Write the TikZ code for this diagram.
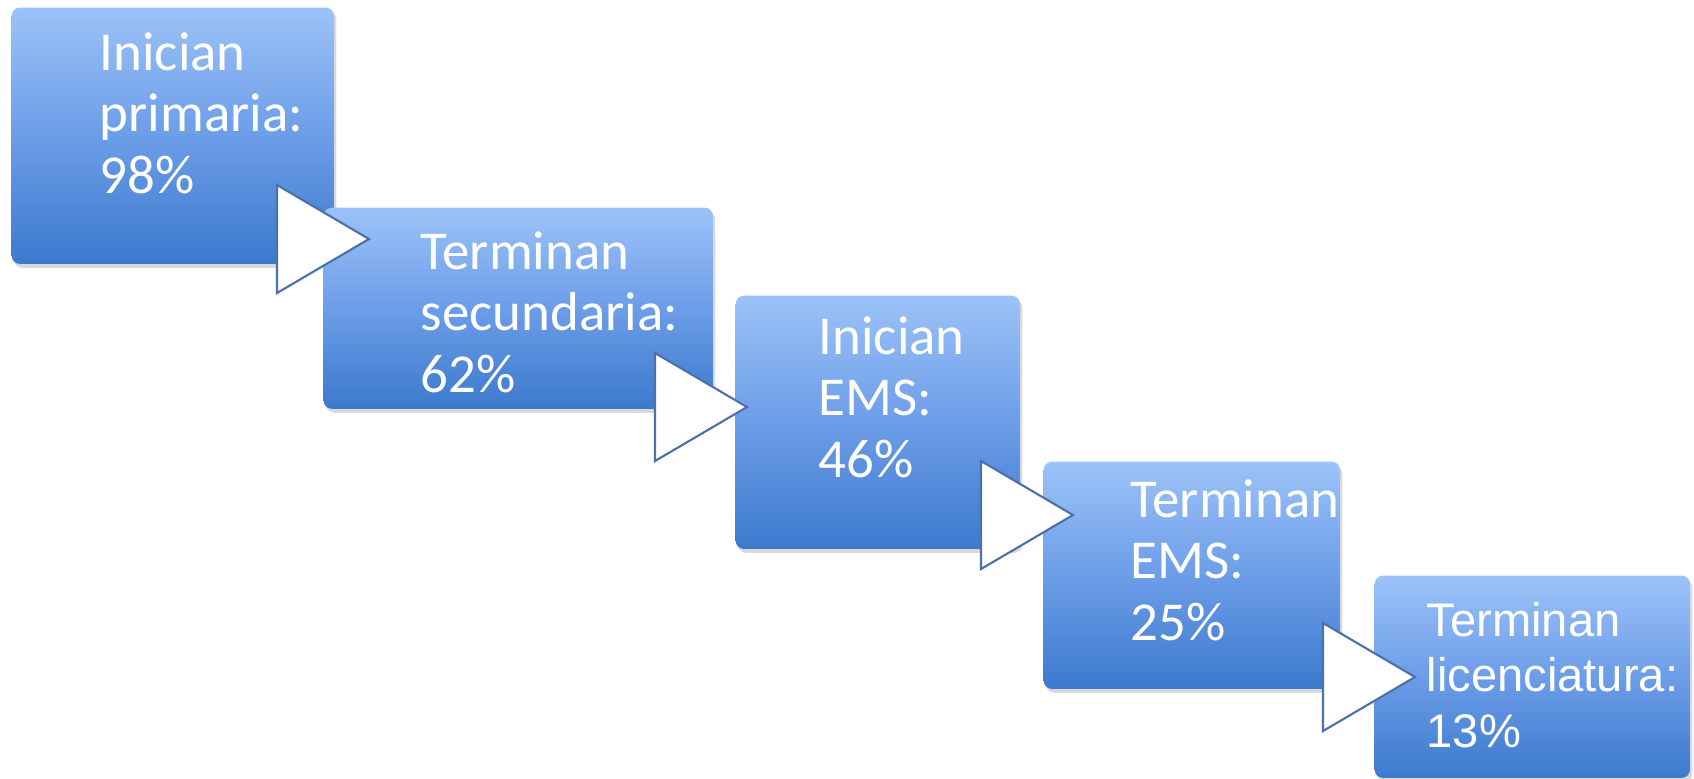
\documentclass[tikz,border=0pt]{standalone}
\usepackage{fontspec}
\setmainfont{Carlito}
\newfontfamily\arialfont{Liberation Sans}
\usetikzlibrary{shadows}
\definecolor{boxtop}{RGB}{156,195,248}
\definecolor{boxmid}{RGB}{108,157,232}
\definecolor{boxbottom}{RGB}{60,121,205}
\definecolor{triline}{RGB}{76,112,168}
\tikzset{%
    stepbox/.style={%
        draw=none, rounded corners=0.08cm, anchor=north west, inner sep=0pt,
        top color=boxtop, bottom color=boxbottom, middle color=boxmid,
        drop shadow={shadow xshift=0.025cm, shadow yshift=-0.04cm, opacity=0.3}
    }
}

\begin{document}
\begin{tikzpicture}[x=0.01cm,y=-0.01cm,
  steptext/.style={text=white, align=left, inner sep=0pt, anchor=base west,
    font=\fontsize{15.6}{17.4}\selectfont},
  lasttext/.style={steptext, font=\arialfont\fontsize{13.4}{15.7}\selectfont},
  arrowtri/.style={draw=triline, fill=white, line width=0.6pt, line join=miter}]
  \useasboundingbox (0,0) rectangle (1694,778);

  \node[stepbox, minimum width=3.22cm, minimum height=2.56cm] (b1) at (11,7) {};
  \node[stepbox, minimum width=3.89cm, minimum height=2.01cm] (b2) at (323,207) {};
  \node[stepbox, minimum width=2.84cm, minimum height=2.53cm] (b3) at (735,295) {};
  \node[stepbox, minimum width=2.96cm, minimum height=2.27cm] (b4) at (1043,461) {};
  \node[stepbox, minimum width=3.15cm, minimum height=2.02cm] (b5) at (1374,575) {};

  % anchor is the last line's baseline
  \node[steptext] (t1) at (99,193) {Inician\\primaria:\\98\%};
  \node[steptext] (t2) at (420,392) {Terminan\\secundaria:\\62\%};
  \node[steptext] (t3) at (818,477) {Inician\\EMS:\\46\%};
  \node[steptext] (t4) at (1130,640) {Terminan\\EMS:\\25\%};
  \node[lasttext] (t5) at (1426,747) {Terminan\\licenciatura:\\13\%};

  % arrows between the steps
  \coordinate (p1) at (369,239);
  \coordinate (p2) at (747,407);
  \coordinate (p3) at (1073,515);
  \coordinate (p4) at (1415,677);
  \foreach \p in {p1,p2,p3,p4}
    \draw[arrowtri] (\p) -- ++(-92,-54) -- ++(0,108) -- cycle;
\end{tikzpicture}
\end{document}
